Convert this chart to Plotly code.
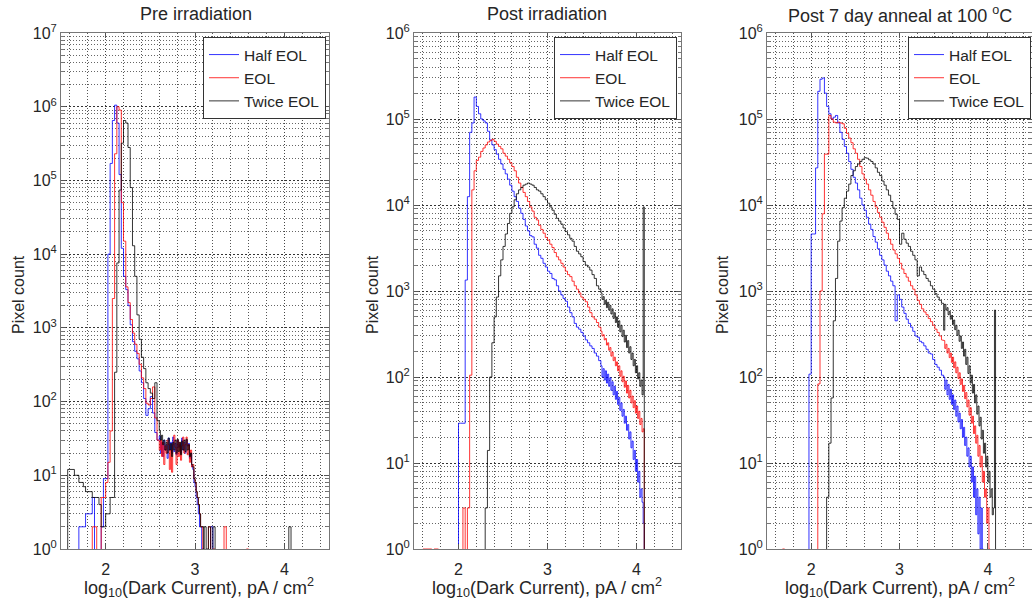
import plotly.graph_objects as go

# ---------------- data: histogram bin counts ----------------
BIN = 0.025    # main bin width (log10 units)
FINE = 0.0125  # bin width used where the histograms are noisy (tails)

# Panel 1: Pre irradiation
pre_half_start = 1.700
pre_half = [2, 2, 2, 3, 3, 3, 5, 0, 0, 0, 2, 9, 9, 1e4, 1.7e5, 6.5e5, 1.05e6, 6e5, 1.2e5, 1.2e4,
            5000, 3300, 2000, 1100, 650, 480, 380, 260, 180, 110, 65, 80, 117, 70, 38, 30]
pre_half_tail = [34, 20, 28, 18, 30, 22, 26, 17, 32, 22, 28, 20, 33, 21, 27, 19, 30, 24, 26, 20,
                 32, 22, 28, 20, 30, 25, 27, 17, 20, 13, 12, 8, 7, 5, 4, 3, 2, 2, 1, 1]
pre_half_extra = [(3.175, 2)]

pre_eol_start = 1.850
pre_eol = [2, 2, 0, 0, 5, 5, 8, 15, 40, 2500, 2.3e5, 1.0e6, 9e5, 5e4, 1.5e4, 3600, 2200, 1300, 850, 600,
           450, 320, 210, 150, 95, 90, 110, 158, 60, 30]
pre_eol_tail = [22, 30, 18, 28, 14, 25, 20, 30, 26, 12, 22, 11, 26, 35, 24, 14, 30, 18, 28, 16,
                25, 33, 20, 26, 33, 19, 26, 15, 22, 13, 14, 9, 8, 6, 5, 4, 3, 2, 2, 1]
pre_eol_extra = [(3.150, 2), (3.200, 1), (3.325, 2), (3.575, 1)]

pre_twice_start = 1.575
pre_twice = [12, 12, 12, 10, 10, 8, 8, 7, 6, 6, 6, 5, 5, 5, 4, 2, 2, 3, 3, 5,
             5, 250, 7600, 7.4e4, 3.2e5, 6.5e5, 6e5, 2.8e5, 8e4, 1.3e4, 5000, 1500, 700, 400, 280, 180,
             150, 130, 110, 180, 55]
pre_twice_tail = [40, 30, 35, 26, 30, 22, 28, 20, 32, 22, 27, 18, 28, 22, 30, 20, 31, 21, 28, 19,
                  29, 22, 30, 21, 31, 22, 26, 18, 20, 14, 13, 9, 8, 6, 5, 4, 3, 2, 2, 2]
pre_twice_extra = [(3.100, 2), (3.125, 1), (3.150, 2), (3.200, 2), (4.050, 2)]

# Panel 2: Post irradiation
post_half_start = 2.000
post_half = [29, 29, 29, 1340, 1.25e4, 7e4, 9e4, 1.8e5, 1.4e5, 1.15e5, 1.0e5, 9.5e4, 9e4, 7.2e4, 5.7e4, 5.0e4,
             4.4e4, 3.9e4, 3.4e4, 3.0e4, 2.6e4, 2.3e4, 2.0e4, 1.7e4, 1.45e4, 1.25e4, 1.1e4, 9200, 8000, 6800,
             5700, 5000, 4400, 4260, 3500, 3150, 2600, 2400, 2100, 1900, 1700, 1600, 1400, 1350, 1150, 1000,
             900, 820, 760, 650, 560, 500, 420, 380, 360, 330, 300, 270, 250, 230, 215, 190, 175, 155]
post_half_tail = [135, 100, 125, 92, 118, 85, 108, 78, 98, 70, 88, 62, 78, 55, 68, 48, 58, 41, 50, 35,
                  42, 29, 35, 24, 28, 19, 23, 15, 18, 11, 14, 8, 11, 6, 8, 4, 5, 3.5, 2]
post_half_extra = []

post_eol_start = 1.600
post_eol = [1, 1, 1, 1, 0, 1, 1, 0, 0, 0, 0, 0, 0, 0, 0, 0, 0, 0, 3, 0, 3, 105,
            1.5e4, 2.5e4, 3.3e4, 3.6e4, 4.2e4, 4.6e4, 5.0e4, 5.4e4, 5.6e4, 5.8e4, 5.5e4, 5.1e4, 4.8e4, 4.5e4,
            4.0e4, 3.7e4, 3.4e4, 3.1e4, 2.8e4, 2.5e4, 2.1e4, 1.8e4, 1.6e4, 1.4e4, 1.25e4, 1.1e4, 9500, 8500,
            7200, 6700, 5800, 5200, 4700, 4200, 3900, 3500, 3200, 2800, 2500, 2300, 2100, 1900, 1700, 1550,
            1470, 1300, 1150, 1050, 950, 850, 800, 750, 650, 560, 500, 470, 430, 380]
post_eol_tail = [340, 300, 310, 270, 280, 235, 250, 205, 220, 175, 195, 155, 170, 135, 150, 118, 135, 102,
                 118, 88, 102, 76, 90, 65, 80, 57, 70, 50, 60, 44, 53, 38, 46, 33, 40, 28, 33, 23, 25]
post_eol_extra = []

post_twice_start = 2.300
post_twice = [3, 14, 100, 250, 500, 850, 1500, 2300, 3300, 4600, 6100, 8000, 9500, 1.15e4, 1.35e4, 1.5e4,
              1.6e4, 1.7e4, 1.75e4, 1.8e4, 1.75e4, 1.7e4, 1.6e4, 1.5e4, 1.45e4, 1.35e4, 1.25e4, 1.15e4, 1.05e4,
              9500, 8700, 7800, 7000, 6500, 6000, 5400, 4900, 4500, 4100, 3800, 3300, 2900, 2700, 2500, 2200,
              2000, 1900, 1750, 1550, 1400, 1150, 1050]
post_twice_tail = [950, 800, 860, 700, 780, 640, 740, 600, 680, 540, 620, 480, 560, 430, 500, 380, 450, 335,
                   400, 295, 350, 255, 305, 220, 265, 190, 225, 160, 190, 135, 160, 112, 135, 95, 112, 78,
                   92, 62, 9500]
post_twice_extra = []

# Panel 3: Post 7 day anneal at 100 C
ann_half_start = 1.975
ann_half = [108, 4600, 4600, 2.7e4, 2.1e5, 2.9e5, 3.0e5, 2.0e5, 1.4e5, 1.15e5, 1.0e5, 1.05e5, 1.1e5, 9e4, 7e4,
            5.8e4, 4.8e4, 4.0e4, 3.2e4, 2.6e4, 2.1e4, 1.8e4, 1.5e4, 1.2e4, 1.0e4, 8700, 7200, 6000, 5200, 4300,
            3700, 3100, 2600, 2300, 2000, 1700, 1500, 1300, 1150, 450, 900, 800, 650, 550, 470, 420, 380, 340,
            300, 290, 260, 250, 230, 210, 190, 185, 160, 140, 130, 120, 105]
ann_half_tail = [100, 72, 92, 62, 82, 55, 72, 48, 62, 42, 54, 35, 46, 30, 38, 25, 32, 20, 26, 16,
                 20, 12, 15, 9, 12, 6, 9, 4, 7, 2.5, 5, 1.5, 4, 1, 3, 1]
ann_half_extra = []

ann_eol_start = 1.675
ann_eol = [1, 0, 0, 0, 0, 0, 0, 0, 0, 0, 0, 0, 0, 0, 0, 0, 83, 1000, 7900, 3.9e4, 3.9e4, 1.1e5, 1.0e5, 9.2e4,
           9.0e4, 9.2e4, 9.0e4, 8.8e4, 7.8e4, 6.8e4, 6.0e4, 5.3e4, 4.5e4, 4.0e4, 3.4e4, 2.8e4, 2.3e4, 2.0e4,
           1.75e4, 1.5e4, 1.3e4, 1.1e4, 9500, 8200, 7200, 6300, 5500, 4700, 4000, 3500, 3000, 2700, 2400, 2100,
           1800, 1600, 1450, 1300, 1150, 1050, 900, 780, 700, 620, 570, 530, 480, 440, 400, 360, 330, 300, 270]
ann_eol_tail = [265, 215, 240, 190, 215, 168, 190, 148, 170, 128, 150, 112, 130, 96, 112, 82, 95, 68, 80, 56,
                66, 45, 54, 36, 44, 29, 35, 22, 27, 17, 21, 12, 16, 9, 12, 6, 8, 4, 5, 2, 3, 1]
ann_eol_extra = []

ann_twice_start = 2.175
ann_twice = [4, 17, 57, 450, 1400, 3800, 6500, 9300, 1.2e4, 1.45e4, 1.75e4, 2.2e4, 2.5e4, 2.8e4, 3.0e4, 3.2e4,
             3.4e4, 3.55e4, 3.5e4, 3.35e4, 3.2e4, 3.0e4, 2.7e4, 2.4e4, 2.2e4, 1.9e4, 1.7e4, 1.5e4, 1.3e4, 1.1e4,
             9200, 7800, 6800, 3500, 4700, 4000, 3600, 3300, 2900, 2600, 2300, 1500, 1900, 1700, 1550, 1400, 1300,
             1150, 1050, 930, 850, 780, 720]
ann_twice_tail = [350, 700, 600, 640, 530, 580, 470, 520, 410, 460, 355, 400, 305, 350, 260, 300, 215, 255,
                  175, 210, 140, 170, 110, 135, 85, 105, 65, 82, 50, 62, 37, 46, 27, 34, 19, 24, 13, 17, 9, 12,
                  6, 8, 4, 5, 2.5, 3, 600]
ann_twice_extra = []

series_names = ["Half EOL", "EOL", "Twice EOL"]
series_colors = ["#0000ff", "#ff0000", "#000000"]
panel_titles = ["Pre irradiation", "Post irradiation", "Post 7 day anneal at 100 <sup>o</sup>C"]
panel_ymax_exp = [7, 6, 6]

panels = [
    [(pre_half_start, pre_half, pre_half_tail, pre_half_extra),
     (pre_eol_start, pre_eol, pre_eol_tail, pre_eol_extra),
     (pre_twice_start, pre_twice, pre_twice_tail, pre_twice_extra)],
    [(post_half_start, post_half, post_half_tail, post_half_extra),
     (post_eol_start, post_eol, post_eol_tail, post_eol_extra),
     (post_twice_start, post_twice, post_twice_tail, post_twice_extra)],
    [(ann_half_start, ann_half, ann_half_tail, ann_half_extra),
     (ann_eol_start, ann_eol, ann_eol_tail, ann_eol_extra),
     (ann_twice_start, ann_twice, ann_twice_tail, ann_twice_extra)],
]

FLOOR = 0.03  # zero-count bins are drawn below the axis (off-scale)


def stair(start, counts, tail, extras):
    """Histogram outline: main bins of width BIN followed by tail bins of width FINE."""
    edges = [start + i * BIN for i in range(len(counts) + 1)]
    tail_start = edges[-1]
    edges += [tail_start + (i + 1) * FINE for i in range(len(tail))]
    vals = list(counts) + list(tail)
    xs, ys = [start], [FLOOR]
    for i, c in enumerate(vals):
        v = c if c > 0 else FLOOR
        xs += [round(edges[i], 5), round(edges[i + 1], 5)]
        ys += [v, v]
    xs.append(xs[-1])
    ys.append(FLOOR)
    for xe, c in extras:
        xs += [None, xe, xe, round(xe + BIN, 4), round(xe + BIN, 4)]
        ys += [None, FLOOR, c, c, FLOOR]
    return xs, ys


W, H = 1032, 602
xdom = [(61, 329), (414, 681), (767, 1032)]
ytop, ybot = 33, 549
FONT = "Liberation Sans, Arial, Helvetica, sans-serif"


def fx(px):
    return px / W


def fy(py):
    return 1 - py / H


fig = go.Figure()
for p, series in enumerate(panels):
    sfx = "" if p == 0 else str(p + 1)
    for s, (start, counts, tail, extras) in enumerate(series):
        xs, ys = stair(start, counts, tail, extras)
        fig.add_trace(go.Scatter(
            x=xs, y=ys, mode="lines", name=series_names[s],
            line=dict(color=series_colors[s], width=0.8),
            xaxis="x" + sfx, yaxis="y" + sfx,
            legend="legend" + sfx, showlegend=True, hoverinfo="skip"))

layout = dict(width=W, height=H, margin=dict(l=0, r=0, t=0, b=0, autoexpand=False),
              paper_bgcolor="white", plot_bgcolor="white",
              font=dict(family=FONT, color="#262626", size=15))

for p in range(3):
    sfx = "" if p == 0 else str(p + 1)
    nexp = panel_ymax_exp[p]
    x0, x1 = xdom[p]
    layout["xaxis" + sfx] = dict(
        domain=[fx(x0), fx(x1)], range=[1.5, 4.5],
        anchor="y" + sfx, automargin=False,
        tickvals=[2, 3, 4], ticktext=["2", "3", "4"], ticks="inside", ticklen=5,
        tickcolor="#555", showline=True, mirror="ticks", linecolor="#777", linewidth=1,
        showgrid=True, gridcolor="#444", griddash="1px,2px", gridwidth=1, zeroline=False,
        tickfont=dict(size=16, family=FONT, color="#262626"), ticklabelstandoff=6,
        minor=dict(dtick=0.2, tick0=0, showgrid=True, gridcolor="#555", griddash="1px,2px",
                   gridwidth=1, ticks=""))
    major = [10 ** k for k in range(nexp + 1)]
    minor_vals = [m * 10 ** k for k in range(nexp) for m in range(2, 10)]
    layout["yaxis" + sfx] = dict(
        domain=[fy(ybot), fy(ytop)], type="log", range=[0, nexp], anchor="x" + sfx, automargin=False,
        tickvals=major, ticktext=["10<sup>%d</sup>" % k for k in range(nexp + 1)],
        ticks="inside", ticklen=5, tickcolor="#555", showline=True, mirror="ticks",
        linecolor="#777", linewidth=1, showgrid=True, gridcolor="#333", griddash="2px,2px",
        gridwidth=1, zeroline=False, tickfont=dict(size=16, family=FONT, color="#262626"),
        minor=dict(tickvals=minor_vals, showgrid=True, gridcolor="#666", griddash="1px,2px",
                   gridwidth=1, ticks="inside", ticklen=3, tickcolor="#777"))
    legend_right = [326, 677, 1031][p]
    layout["legend" + sfx] = dict(
        x=fx(legend_right), xanchor="right", y=fy(37), yanchor="top",
        bgcolor="white", bordercolor="#333", borderwidth=1,
        font=dict(size=15.5, family=FONT, color="#262626"), tracegroupgap=0,
        itemclick=False, itemdoubleclick=False)

annotations = []
title_cx = [196, 546.5, 899.5]
xlabel_cx = [199, 546.5, 900]
ylabel_cx = [18, 372, 722]
for p in range(3):
    annotations.append(dict(text=panel_titles[p], x=fx(title_cx[p]), y=fy(14), xref="paper",
                            yref="paper", showarrow=False, xanchor="center", yanchor="middle",
                            font=dict(size=18, family=FONT, color="#262626")))
    annotations.append(dict(text="log<sub>10</sub>(Dark Current), pA / cm<sup>2</sup>",
                            x=fx(xlabel_cx[p]), y=fy(587), xref="paper", yref="paper",
                            showarrow=False, xanchor="center", yanchor="middle",
                            font=dict(size=18, family=FONT, color="#262626")))
    annotations.append(dict(text="Pixel count", x=fx(ylabel_cx[p]), y=fy(295), xref="paper",
                            yref="paper", showarrow=False, xanchor="center", yanchor="middle",
                            textangle=-90, font=dict(size=16, family=FONT, color="#262626")))
layout["annotations"] = annotations

fig.update_layout(**layout)
# remove the browser's default 8 px page margin so the figure sits at the window origin
fig.write_html("out.html", config={"displayModeBar": False},
               post_script="document.body.style.margin='0px';")
